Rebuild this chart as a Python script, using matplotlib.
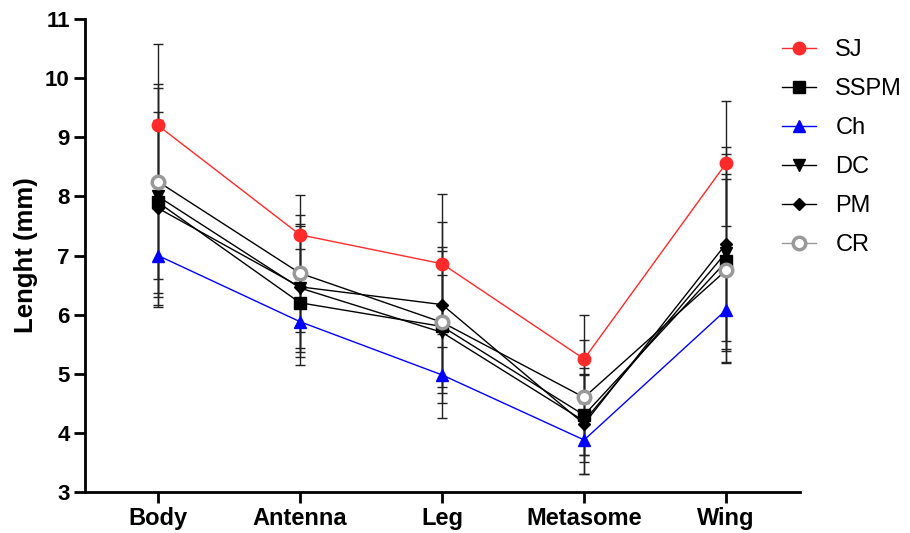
import matplotlib
matplotlib.use("Agg")
import matplotlib.pyplot as plt

plt.rcParams['font.family'] = ['Liberation Sans', 'DejaVu Sans']

parts = ["Body", "Antenna", "Leg", "Metasome", "Wing"]

sj = [9.2, 7.35, 6.86, 5.25, 8.56]
sspm = [7.9, 6.2, 5.8, 4.3, 6.9]
ch = [7.0, 5.88, 4.98, 3.88, 6.08]
dc = [8.0, 6.45, 5.7, 4.2, 7.05]
pm = [7.8, 6.47, 6.17, 4.15, 7.2]
cr = [8.25, 6.7, 5.87, 4.6, 6.75]

sj_sd = [1.38, 0.68, 1.18, 0.75, 1.06]
sspm_sd = [1.53, 0.91, 0.87, 0.68, 1.48]
ch_sd = [0.87, 0.73, 0.47, 0.37, 0.9]
dc_sd = [1.84, 1.08, 1.45, 0.9, 1.67]
pm_sd = [1.5, 1.03, 1.4, 0.84, 1.64]
cr_sd = [1.65, 0.99, 1.2, 0.97, 1.55]

series = [
    ("SJ", sj, sj_sd, dict(color="#ff2a2a", marker="o", ms=9, mfc="#ff2a2a", mec="#ff2a2a")),
    ("SSPM", sspm, sspm_sd, dict(color="black", marker="s", ms=8, mfc="black", mec="black")),
    ("Ch", ch, ch_sd, dict(color="#0000ff", marker="^", ms=9, mfc="#0000ff", mec="#0000ff")),
    ("DC", dc, dc_sd, dict(color="black", marker="v", ms=9, mfc="black", mec="black")),
    ("PM", pm, pm_sd, dict(color="black", marker="D", ms=6.5, mfc="black", mec="black")),
    ("CR", cr, cr_sd, dict(color="black", marker="o", ms=9, mfc="white", mec="#999999", mew=2.5)),
]

fig = plt.figure(figsize=(9.1, 5.33), dpi=100)
ax = fig.add_axes([85 / 910, 41 / 533, 715 / 910, 473 / 533])

x = list(range(len(parts)))
handles = []
for name, vals, sd, st in series:
    ax.errorbar(x, vals, yerr=sd, fmt="none", ecolor="#222222", elinewidth=1,
                capsize=3.5, capthick=1, zorder=2)
    h, = ax.plot(x, vals, linewidth=1, zorder=3, label=name, **st)
    handles.append(h)

ax.set_xlim(-0.514, 4.52)
ax.set_ylim(3, 11)
ax.set_yticks(range(3, 12))
ax.set_xticks(x)
ax.set_xticklabels(parts, fontsize=17, fontweight="bold")
for lab in ax.get_yticklabels():
    lab.set_fontsize(16)
    lab.set_fontweight("bold")
ax.set_ylabel("Lenght (mm)", fontsize=18.5, fontweight="bold", labelpad=5)

for s in ["top", "right"]:
    ax.spines[s].set_visible(False)
for s in ["left", "bottom"]:
    ax.spines[s].set_linewidth(2)
ax.tick_params(axis="both", width=2, length=8, direction="out", pad=3)

leg = fig.legend(handles=handles, loc="upper left", bbox_to_anchor=(761 / 910, 1 - 18 / 533),
                 frameon=False, fontsize=17, handlelength=1.45, labelspacing=0.72,
                 handletextpad=0.8)
# CR legend line is grey in the reference
leg.get_lines()[5].set_color("#999999")

fig.savefig("out.png", dpi=100)
